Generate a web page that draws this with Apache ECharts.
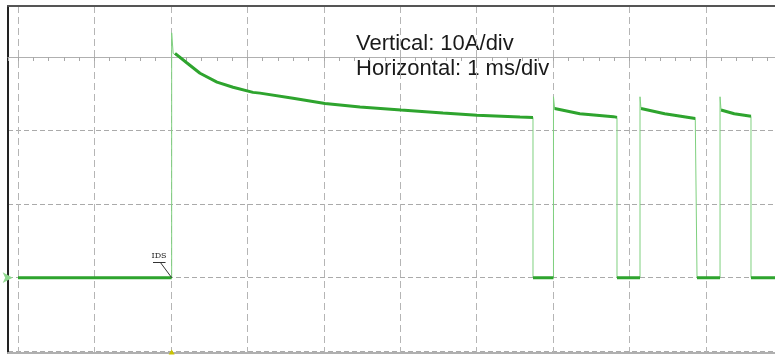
<!DOCTYPE html>
<html>
<head>
<meta charset="utf-8">
<script src="https://cdn.jsdelivr.net/npm/echarts@6/dist/echarts.min.js"></script>
<style>
html,body{margin:0;padding:0;background:#fff;}
#chart{width:775px;height:358px;}
</style>
</head>
<body>
<div id="chart"></div>
<script>
// Oscilloscope trace: time in ms (1 ms/div), current in A (10 A/div)
const timeMs = [0, 2.01, 2.01, 2.03, 2.054, 2.211, 2.381, 2.603, 2.813, 3.074, 3.166, 3.598, 4.016, 4.474, 5.010, 5.560, 6.005, 6.567, 6.737,
  6.737, 7.005, 7.005, 7.02, 7.35, 7.79, 7.836,
  7.836, 8.137, 8.137, 8.15, 8.46, 8.86, 8.883,
  8.883, 9.184, 9.184, 9.197, 9.37, 9.589,
  9.589, 9.903];
const currentA = [0, 0, 33.3, 30.5, 30.5, 29.2, 27.8, 26.6, 25.9, 25.2, 25.1, 24.4, 23.7, 23.2, 22.8, 22.4, 22.1, 21.85, 21.8,
  0, 0, 24.6, 23.0, 22.3, 21.9, 21.8,
  0, 0, 24.6, 23.0, 22.3, 21.65, 21.5,
  0, 0, 24.6, 22.8, 22.3, 21.95,
  0, 0];
const xRange = [-0.131, 9.903];
const yRange = [-10.25, 36.95];
const labelLines = ['Vertical: 10A/div', 'Horizontal: 1 ms/div'];
const idsLabel = 'IDS';
const idsLabelAt = [1.845, 3.0];
const idsUnderline = [[1.766, 2.1], [1.93, 2.1]];
const idsPointer = [[1.86, 2.1], [2.01, 0]];
const triggerAt = 2.01;
const channelMarkAt = [-0.07, 0];

const full = timeMs.map((t, i) => [t, currentA[i]]);
// thick trace: break on vertical edges (near-zero time step)
const thick = [];
for (let i = 0; i < full.length; i++) {
  if (i > 0 && full[i][0] - full[i - 1][0] < 0.025) thick.push([full[i][0], '-']);
  thick.push(full[i]);
}

const chart = echarts.init(document.getElementById('chart'));
const dashed = { color: '#aaaaaa', width: 1, type: [5, 3] };
chart.setOption({
  animation: false,
  backgroundColor: '#ffffff',
  grid: { left: 8, right: 0, top: 6, bottom: 5, containLabel: false },
  xAxis: [{
    type: 'value', min: xRange[0], max: xRange[1], splitNumber: 10, minInterval: 1, maxInterval: 1,
    axisLine: { show: true, onZero: false, lineStyle: { color: '#b0b0b0', width: 2 } },
    axisTick: { show: false }, axisLabel: { show: false },
    splitLine: { show: true, showMinLine: false, showMaxLine: false, lineStyle: { color: '#b5b5b5', width: 1, type: [7, 4] } }
  }, {
    type: 'value', min: xRange[0], max: xRange[1], splitNumber: 10, minInterval: 1, maxInterval: 1,
    position: 'top', offset: 0,
    axisLine: { show: true, onZero: false, lineStyle: { color: '#555555', width: 2 } },
    axisTick: { show: false }, axisLabel: { show: false }, splitLine: { show: false }
  }, {
    type: 'value', min: xRange[0], max: xRange[1], splitNumber: 10, minInterval: 1, maxInterval: 1,
    position: 'top', offset: -51,
    axisLine: { show: true, onZero: false, lineStyle: { color: '#b0b0b0', width: 1 } },
    axisTick: { show: true, inside: true, length: 4, lineStyle: { color: '#a8a8a8' } },
    minorTick: { show: true, splitNumber: 5, length: 4, lineStyle: { color: '#a8a8a8' } },
    axisLabel: { show: false }, splitLine: { show: false }
  }],
  yAxis: [{
    type: 'value', min: yRange[0], max: yRange[1], splitNumber: 5, minInterval: 10, maxInterval: 10,
    axisLine: { show: true, onZero: false, lineStyle: { color: '#222222', width: 2 } },
    axisTick: { show: false }, axisLabel: { show: false },
    splitLine: { show: true, showMinLine: false, showMaxLine: false, lineStyle: dashed }
  }],
  graphic: [{
    type: 'text', left: 356, top: 33,
    style: { text: labelLines[0], font: '22px "Liberation Sans", Arial, sans-serif', fill: '#1a1a1a' }
  }, {
    type: 'text', left: 356, top: 58,
    style: { text: labelLines[1], font: '22px "Liberation Sans", Arial, sans-serif', fill: '#1a1a1a' }
  }],
  series: [{
    type: 'line', data: full, symbol: 'none', xAxisIndex: 0,
    lineStyle: { color: '#7fd07f', width: 1 }, z: 3,
    markLine: {
      silent: true, symbol: 'none', label: { show: false },
      lineStyle: { color: '#333', width: 1, type: 'solid' },
      data: [
        [{ coord: idsPointer[0] }, { coord: idsPointer[1] }],
        [{ coord: idsUnderline[0] }, { coord: idsUnderline[1] }]
      ]
    },
    markPoint: {
      silent: true,
      data: [{
        coord: idsLabelAt, symbol: 'circle', symbolSize: 1,
        itemStyle: { color: 'rgba(0,0,0,0)' },
        label: { show: true, position: 'inside', formatter: idsLabel, fontSize: 8, color: '#222', fontFamily: 'DejaVu Serif' }
      }, {
        coord: [triggerAt, yRange[0]], symbol: 'triangle', symbolSize: [6, 5], symbolOffset: [0, -1],
        itemStyle: { color: '#c9c200' }, label: { show: false }
      }, {
        coord: channelMarkAt, symbol: 'arrow', symbolSize: [8, 10], symbolRotate: -90,
        itemStyle: { color: '#8fd88f' }, label: { show: false }
      }]
    }
  }, {
    type: 'line', data: thick, symbol: 'none', xAxisIndex: 0, connectNulls: false,
    lineStyle: { color: '#2ea42e', width: 3 }, z: 4
  }]
});
</script>
</body>
</html>
